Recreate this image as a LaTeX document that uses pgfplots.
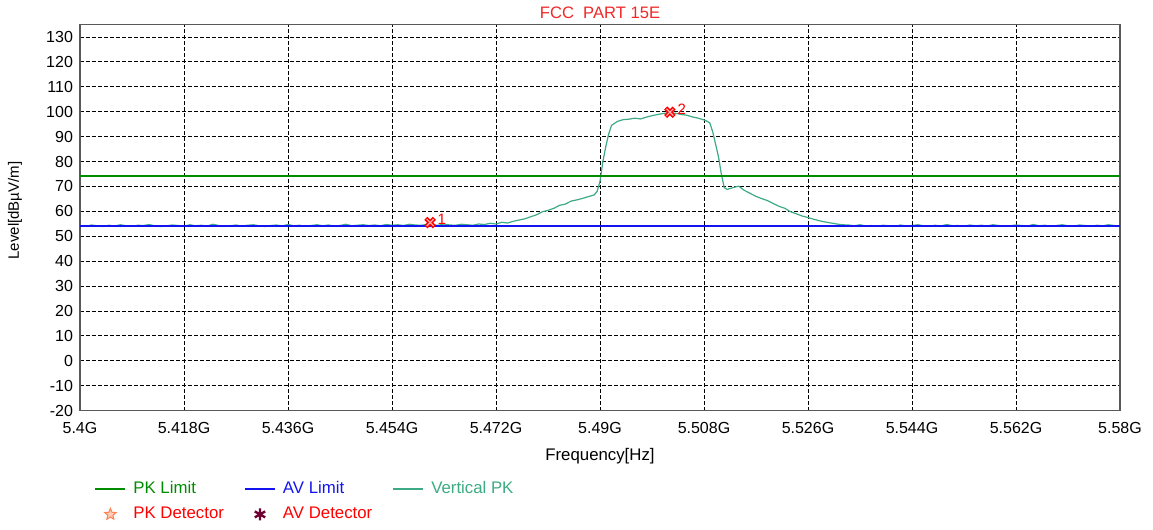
\documentclass[border=0pt]{standalone}
\usepackage{pgfplots}
\pgfplotsset{compat=1.18}
\usepackage{fontspec}
\setmainfont{Liberation Sans}

\definecolor{pkgreen}{RGB}{0,140,0}
\definecolor{avblue}{RGB}{20,20,240}
\definecolor{vpk}{RGB}{60,170,130}
\definecolor{ttlred}{RGB}{240,40,40}
\definecolor{starorange}{RGB}{255,130,80}
\definecolor{maroon}{RGB}{110,0,50}

% outlined five point star for the PK detector legend
\pgfdeclareplotmark{ostar}{%
  \pgfpathmoveto{\pgfpointpolar{90}{\pgfplotmarksize}}%
  \pgfpathlineto{\pgfpointpolar{126}{0.45\pgfplotmarksize}}%
  \pgfpathlineto{\pgfpointpolar{162}{\pgfplotmarksize}}%
  \pgfpathlineto{\pgfpointpolar{198}{0.45\pgfplotmarksize}}%
  \pgfpathlineto{\pgfpointpolar{234}{\pgfplotmarksize}}%
  \pgfpathlineto{\pgfpointpolar{270}{0.45\pgfplotmarksize}}%
  \pgfpathlineto{\pgfpointpolar{306}{\pgfplotmarksize}}%
  \pgfpathlineto{\pgfpointpolar{342}{0.45\pgfplotmarksize}}%
  \pgfpathlineto{\pgfpointpolar{18}{\pgfplotmarksize}}%
  \pgfpathlineto{\pgfpointpolar{54}{0.45\pgfplotmarksize}}%
  \pgfpathclose\pgfusepathqfillstroke}

\begin{document}
\begin{tikzpicture}
\begin{axis}[
    scale only axis,
    width=520pt, height=193pt,
    xmin=5.4, xmax=5.58,
    ymin=-20, ymax=135,
    xtick={5.4,5.418,5.436,5.454,5.472,5.49,5.508,5.526,5.544,5.562,5.58},
    xticklabels={5.4G,5.418G,5.436G,5.454G,5.472G,5.49G,5.508G,5.526G,5.544G,5.562G,5.58G},
    ytick={-20,-10,...,130},
    /pgf/number format/assume math mode=true,
    tick label style={font=\fontsize{8}{9}\selectfont},
    xticklabel style={yshift=-2.5pt},
    major tick length=0pt,
    grid=major,
    major grid style={black, line width=0.4pt, dash pattern=on 2pt off 1pt},
    axis line style={draw=black!65, line width=0.8pt},
    title={FCC\ \ PART 15E},
    title style={font=\fontsize{8.3}{9}\selectfont, text=ttlred, at={(axis description cs:0.5,1)}, anchor=center, yshift=0pt},
    xlabel={Frequency[Hz]},
    xlabel style={font=\fontsize{8.4}{9}\selectfont, at={(axis description cs:0.5,0)}, anchor=center, yshift=-23pt},
    ylabel={Level[dBµV/m]},
    ylabel style={font=\fontsize{7.5}{9}\selectfont, at={(axis description cs:-0.0625,0.518)}, anchor=center},
    clip=false,
    legend columns=3,
    legend cell align=left,
    legend style={draw=none, fill=none, font=\fontsize{8.4}{9}\selectfont,
        at={(axis description cs:0,0)}, anchor=north west, xshift=4pt, yshift=-31pt,
        /tikz/every odd column/.append style={column sep=1.5pt},
        /tikz/every even column/.append style={column sep=8pt},
        row sep=1.5pt},
    legend image code/.code={\draw[#1] (0pt,0pt) -- (15pt,0pt);},
]
% trace
\addplot[vpk, line width=0.6pt, forget plot] table {
5.400 54.3
5.401 54.0
5.402 54.5
5.403 54.2
5.404 53.9
5.405 54.4
5.406 54.1
5.407 54.6
5.408 54.2
5.409 54.0
5.410 54.4
5.411 54.3
5.412 54.7
5.413 54.1
5.414 53.9
5.415 54.2
5.416 54.5
5.417 54.3
5.418 54.0
5.419 54.6
5.420 54.2
5.421 54.4
5.422 54.1
5.423 54.8
5.424 54.3
5.425 54.0
5.426 54.2
5.427 54.5
5.428 54.1
5.429 54.4
5.430 54.6
5.431 54.2
5.432 53.9
5.433 54.3
5.434 54.5
5.435 54.1
5.436 54.7
5.437 54.2
5.438 54.4
5.439 54.0
5.440 54.3
5.441 54.6
5.442 54.2
5.443 54.5
5.444 54.1
5.445 54.3
5.446 54.8
5.447 54.2
5.448 54.4
5.449 54.6
5.450 54.3
5.451 54.5
5.452 54.2
5.453 54.7
5.454 54.4
5.455 54.6
5.456 54.3
5.457 54.8
5.458 54.5
5.459 54.4
5.460 54.7
5.4606 55.3
5.461 54.6
5.462 54.4
5.463 54.9
5.464 54.5
5.465 54.4
5.466 54.8
5.467 54.6
5.468 54.4
5.469 54.9
5.470 54.7
5.471 55.2
5.472 54.9
5.473 55.6
5.474 55.3
5.475 56.0
5.476 56.5
5.477 57.0
5.478 57.8
5.479 58.6
5.480 59.8
5.481 60.4
5.482 61.2
5.483 62.4
5.484 62.9
5.485 64.1
5.486 64.6
5.487 65.2
5.488 65.9
5.489 66.6
5.4895 68.0
5.490 72.0
5.4905 80.0
5.491 86.0
5.4915 91.0
5.492 94.5
5.493 96.1
5.494 96.8
5.495 97.0
5.496 97.4
5.497 97.1
5.498 97.8
5.499 98.4
5.500 98.9
5.501 99.3
5.502 99.6
5.503 99.4
5.504 98.9
5.505 98.6
5.506 97.9
5.507 97.4
5.508 96.7
5.5085 96.2
5.509 95.5
5.5095 92.0
5.510 87.0
5.5105 82.0
5.511 75.0
5.5115 69.5
5.512 68.8
5.513 69.5
5.514 70.1
5.515 68.4
5.516 67.2
5.517 66.0
5.518 65.1
5.519 64.3
5.520 63.1
5.521 62.0
5.522 61.2
5.523 59.8
5.524 59.0
5.525 58.1
5.526 57.5
5.527 56.8
5.528 56.2
5.529 55.7
5.530 55.3
5.531 54.9
5.532 54.6
5.533 54.5
5.534 54.2
5.535 54.6
5.536 54.1
5.537 54.3
5.538 54.0
5.539 54.4
5.540 54.2
5.541 53.9
5.542 54.5
5.543 54.1
5.544 54.3
5.545 54.6
5.546 54.2
5.547 54.0
5.548 54.4
5.549 54.1
5.550 54.7
5.551 54.2
5.552 54.3
5.553 54.0
5.554 54.5
5.555 54.2
5.556 54.4
5.557 54.1
5.558 54.6
5.559 54.3
5.560 54.0
5.561 54.2
5.562 54.5
5.563 54.3
5.564 54.1
5.565 54.7
5.566 54.2
5.567 54.4
5.568 54.0
5.569 54.3
5.570 54.6
5.571 54.2
5.572 54.1
5.573 54.5
5.574 54.3
5.575 54.0
5.576 54.4
5.577 54.2
5.578 54.6
5.579 54.3
5.580 54.1
};
% limits
\addplot[pkgreen, line width=1pt, forget plot] coordinates {(5.4,74) (5.58,74)};
\addplot[avblue, line width=1pt, forget plot] coordinates {(5.4,54) (5.58,54)};
% markers
\addplot[only marks, mark=x, mark size=3pt, red, line width=2.2pt, forget plot] coordinates {(5.4606,55.5) (5.5021,99.8)};
\addplot[only marks, mark=x, mark size=2.4pt, red!30, line width=0.6pt, forget plot] coordinates {(5.4606,55.5)}
    node[pos=1, anchor=west, xshift=3.5pt, yshift=1.5pt, inner sep=0pt, font=\fontsize{7.5}{8}\selectfont, text=red] {1};
\addplot[only marks, mark=x, mark size=2.4pt, red!30, line width=0.6pt, forget plot] coordinates {(5.5021,99.8)}
    node[pos=1, anchor=west, xshift=3.5pt, yshift=1.5pt, inner sep=0pt, font=\fontsize{7.5}{8}\selectfont, text=red] {2};
% legend
\addlegendimage{pkgreen, line width=1pt}
\addlegendentry{\textcolor{pkgreen}{PK Limit}}
\addlegendimage{avblue, line width=1pt}
\addlegendentry{\textcolor{avblue}{AV Limit}}
\addlegendimage{vpk, line width=1pt}
\addlegendentry{\textcolor{vpk}{Vertical PK}}
\addlegendimage{legend image code/.code={\draw[draw=starorange, fill=starorange!40, line width=0.5pt, mark=ostar, mark size=3pt] plot coordinates {(7.5pt,0pt)};}}
\addlegendentry{\textcolor{red}{PK Detector}}
\addlegendimage{legend image code/.code={\draw[maroon, line width=1.2pt, mark=asterisk, mark size=3pt] plot coordinates {(7.5pt,0pt)};}}
\addlegendentry{\textcolor{red}{AV Detector}}
\coordinate (bl) at (rel axis cs:0,0);
\coordinate (tr) at (rel axis cs:1,1);
\end{axis}
\path (bl) ++(-40pt,-58.5pt) coordinate (p1);
\path (tr) ++(16.5pt,11.5pt) coordinate (p2);
\path (p1) rectangle (p2);
\end{tikzpicture}
\end{document}
